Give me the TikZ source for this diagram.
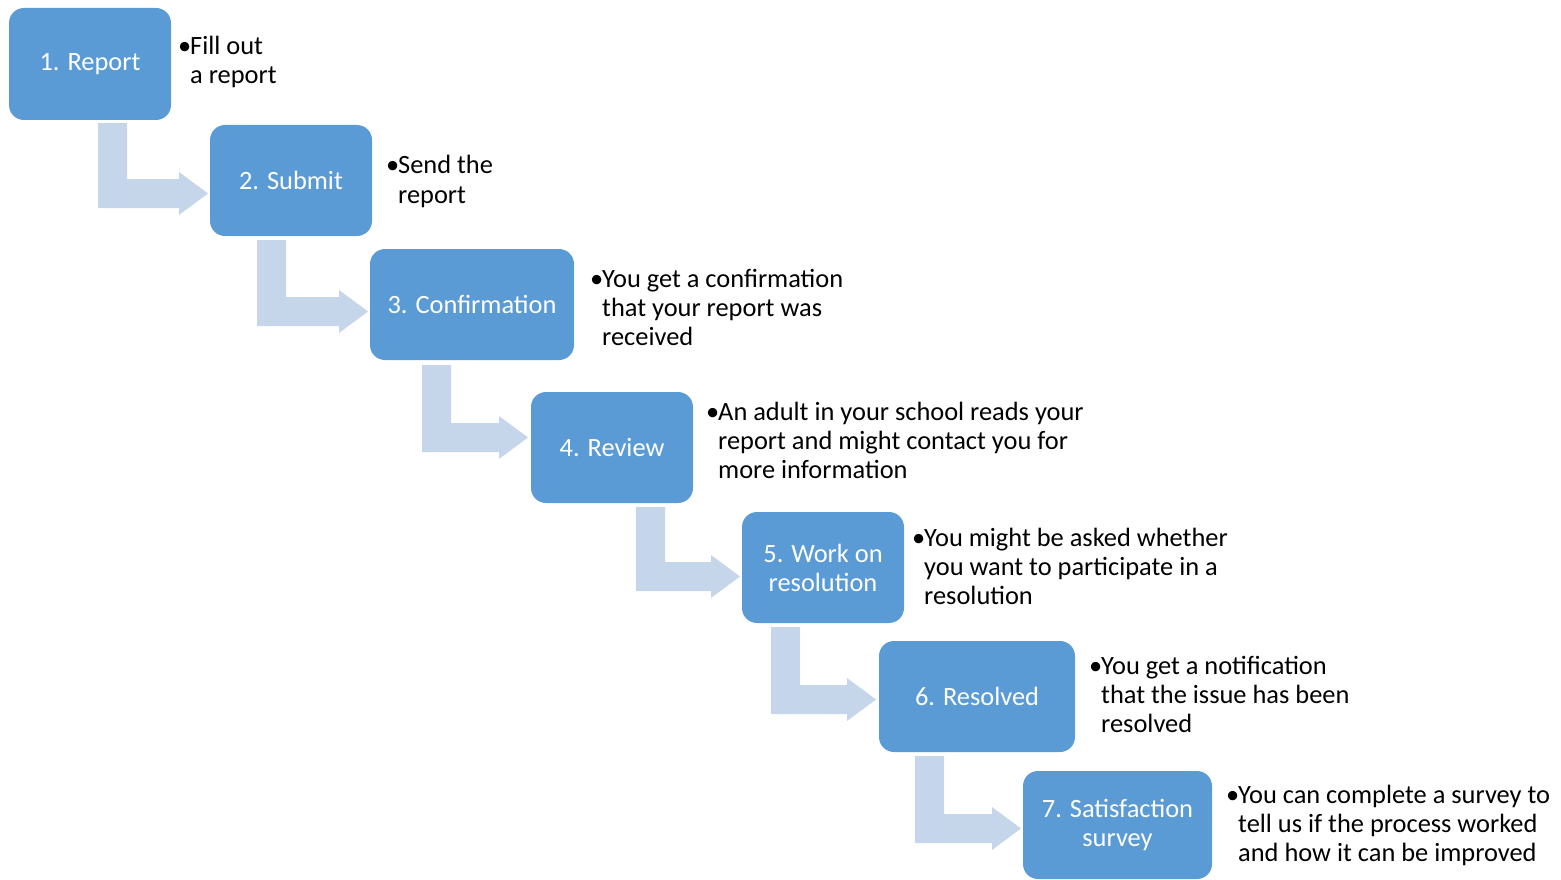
\documentclass[tikz,border=0pt]{standalone}
\usepackage{fontspec}
\setmainfont{Carlito}
\definecolor{boxblue}{RGB}{91,155,213}
\definecolor{arrowblue}{RGB}{197,213,234}
\newcommand{\bentarr}[4]{% x0, ytop, ybar, xtip
  \fill[arrowblue] (#1,#2) -- (#1+29,#2) -- (#1+29,#3) -- (#4-29,#3) -- (#4-29,#3-7)
    -- (#4,#3+14.5) -- (#4-29,#3+36) -- (#4-29,#3+29) -- (#1,#3+29) -- cycle;}
\newcommand{\bl}{\makebox[12pt][l]{•}}
\begin{document}
\begin{tikzpicture}[x=1pt,y=-1pt,
  stepbox/.style={fill=boxblue, rounded corners=15pt, text=white, align=center,
    inner sep=0pt, font=\fontsize{26.4}{29}\selectfont},
  desc/.style={anchor=base west, inner sep=0pt, align=left, text=black,
    font=\fontsize{26.4}{29}\selectfont}]
\useasboundingbox (0,0) rectangle (1561,880);
% bent arrows
\bentarr{98}{123}{179}{208}
\bentarr{257}{240}{297}{368}
\bentarr{422}{365}{423}{528}
\bentarr{636}{507}{562}{740}
\bentarr{771}{627}{685}{876}
\bentarr{915}{756}{814}{1021}
% step boxes
\node[stepbox, minimum width=162pt, minimum height=112pt] (b1) at (90,64) {1. Report};
\node[stepbox, minimum width=162pt, minimum height=111pt] (b2) at (291,180.5) {2. Submit};
\node[stepbox, minimum width=204pt, minimum height=111pt] (b3) at (472,304.5) {3. Confirmation};
\node[stepbox, minimum width=162pt, minimum height=111pt] (b4) at (612,447.5) {4. Review};
\node[stepbox, minimum width=162pt, minimum height=111pt] (b5) at (823,567.5) {5. Work on\\resolution};
\node[stepbox, minimum width=196pt, minimum height=111pt] (b6) at (977,696.5) {6. Resolved};
\node[stepbox, minimum width=189pt, minimum height=108pt] (b7) at (1117.5,825) {7. Satisfaction\\survey};
% descriptions (anchor = baseline of last line)
\node[desc] (d1) at (178,84) {\bl Fill out\\\hspace*{12pt}a report};
\node[desc] (d2) at (386,203) {\bl Send the\\\hspace*{12pt}report};
\node[desc] (d3) at (590,345) {\bl You get a confirmation\\\hspace*{12pt}that your report was\\\hspace*{12pt}received};
\node[desc] (d4) at (706,478) {\bl An adult in your school reads your\\\hspace*{12pt}report and might contact you for\\\hspace*{12pt}more information};
\node[desc] (d5) at (912,604) {\bl You might be asked whether\\\hspace*{12pt}you want to participate in a\\\hspace*{12pt}resolution};
\node[desc] (d6) at (1089,732) {\bl You get a notification\\\hspace*{12pt}that the issue has been\\\hspace*{12pt}resolved};
\node[desc] (d7) at (1226,861) {\bl You can complete a survey to\\\hspace*{12pt}tell us if the process worked\\\hspace*{12pt}and how it can be improved};
\end{tikzpicture}
\end{document}
